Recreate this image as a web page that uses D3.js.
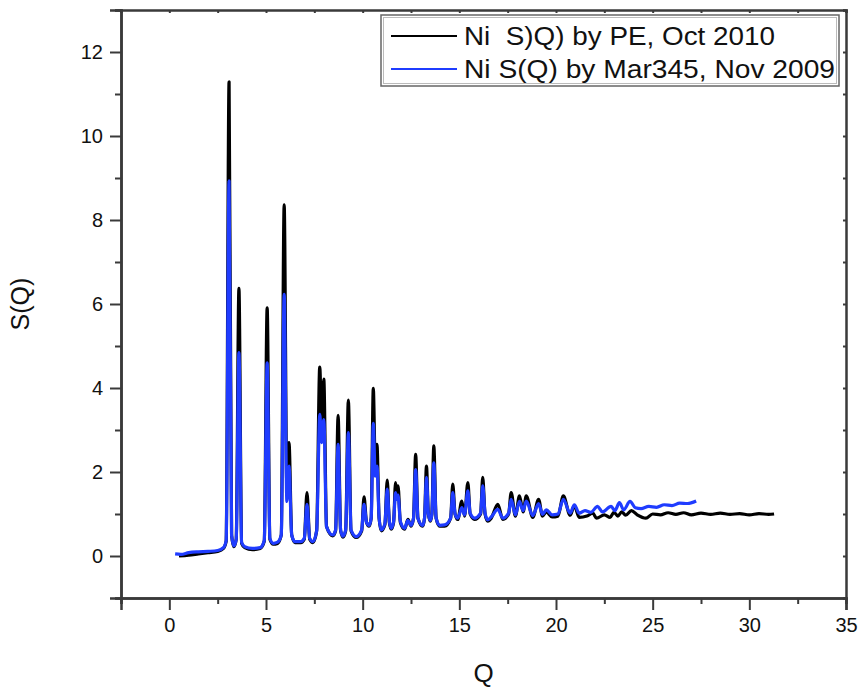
<!DOCTYPE html>
<html>
<head>
<meta charset="utf-8">
<script src="https://cdn.jsdelivr.net/npm/d3@7"></script>
<style>
  body { margin: 0; background: #fff; }
  text { font-family: "Liberation Sans", Arial, sans-serif; fill: #111; }
</style>
</head>
<body>
<div id="plot"></div>
<script>
// S(Q), [Q, S(Q)]
const peData = [
  [0.5,0.0],[1.0,0.02],[1.5,0.05],[2.0,0.08],[2.5,0.11],[2.8,0.18],[2.94,0.35],
  [3.09,11.29],[3.22,0.5],[3.34,0.22],[3.46,0.4],[3.6,6.37],[3.74,0.3],[3.9,0.2],
  [4.3,0.15],[4.7,0.18],[4.91,0.35],[5.06,5.91],[5.2,0.4],[5.37,0.28],[5.6,0.3],
  [5.79,0.5],[5.94,8.36],[6.08,1.6],[6.19,2.7],[6.33,0.5],[6.5,0.32],[6.8,0.32],
  [6.98,0.4],[7.12,1.51],[7.26,0.4],[7.43,0.32],[7.62,0.6],[7.78,4.5],[7.88,3.2],
  [7.99,4.21],[8.13,0.7],[8.45,0.48],[8.6,0.6],[8.73,3.35],[8.86,0.6],[8.98,0.45],
  [9.12,0.6],[9.26,3.71],[9.4,0.6],[9.67,0.44],[9.95,0.6],[10.07,1.41],[10.2,0.8],
  [10.33,0.71],[10.44,0.9],[10.55,3.99],[10.65,2.2],[10.74,2.66],[10.85,0.9],
  [10.96,0.6],[11.15,0.75],[11.27,1.81],[11.38,0.8],[11.48,0.64],[11.6,0.8],
  [11.7,1.75],[11.76,1.5],[11.83,1.67],[11.95,0.8],[12.17,0.64],[12.34,0.87],
  [12.5,0.71],[12.63,0.9],[12.74,2.42],[12.86,0.9],[13.1,0.71],[13.2,0.9],
  [13.3,2.14],[13.4,1.0],[13.5,0.83],[13.58,1.0],[13.68,2.62],[13.8,0.9],
  [13.98,0.71],[14.24,0.71],[14.55,0.9],[14.66,1.71],[14.78,1.0],[14.92,0.87],
  [15.13,1.31],[15.27,0.95],[15.44,1.75],[15.56,1.0],[15.79,0.87],[16.1,1.0],
  [16.21,1.87],[16.33,1.0],[16.47,0.83],[16.65,0.9],[16.99,1.23],[17.25,0.87],
  [17.55,1.0],[17.68,1.51],[17.9,0.95],[18.11,1.43],[18.3,1.05],[18.46,1.43],
  [18.8,0.92],[19.1,1.35],[19.3,0.95],[19.5,1.05],[19.8,0.93],[20.1,0.95],
  [20.38,1.43],[20.73,0.97],[20.95,1.2],[21.2,0.92],[21.6,0.95],[21.9,1.02],
  [22.1,0.9],[22.5,0.98],[22.8,0.92],[23.0,1.04],[23.2,0.95],[23.4,1.05],
  [23.6,0.97],[23.9,1.08],[24.2,0.98],[24.65,0.9],[25.0,1.0],[25.4,0.98],
  [25.8,1.03],[26.2,0.99],[26.6,1.03],[27.0,0.98],[27.5,1.02],[28.0,0.99],
  [28.5,1.02],[29.0,0.99],[29.5,1.01],[30.0,0.98],[30.5,1.01],[31.0,0.99],[31.28,1.0]
];

const marData = [
  [0.3,0.05],[0.6,0.04],[1.0,0.08],[1.5,0.1],[2.0,0.11],[2.5,0.13],[2.8,0.2],
  [2.94,0.37],[3.09,8.93],[3.22,0.5],[3.34,0.24],[3.46,0.4],[3.6,4.84],[3.74,0.32],
  [3.9,0.22],[4.3,0.18],[4.7,0.2],[4.91,0.37],[5.06,4.6],[5.2,0.42],[5.37,0.3],
  [5.6,0.33],[5.79,0.5],[5.94,6.23],[6.08,1.3],[6.19,2.14],[6.33,0.5],[6.5,0.34],
  [6.8,0.34],[6.98,0.42],[7.12,1.23],[7.26,0.42],[7.43,0.34],[7.62,0.6],[7.78,3.37],
  [7.88,2.7],[7.99,3.25],[8.13,0.7],[8.45,0.5],[8.6,0.62],[8.73,2.66],[8.86,0.62],
  [8.98,0.47],[9.12,0.62],[9.26,2.94],[9.4,0.62],[9.67,0.46],[9.95,0.62],
  [10.07,1.23],[10.2,0.8],[10.33,0.73],[10.44,0.9],[10.55,3.16],[10.65,1.9],
  [10.74,2.14],[10.85,0.9],[10.96,0.62],[11.15,0.77],[11.27,1.59],[11.38,0.82],
  [11.48,0.66],[11.6,0.82],[11.7,1.51],[11.76,1.35],[11.83,1.45],[11.95,0.82],
  [12.17,0.66],[12.34,0.85],[12.5,0.73],[12.63,0.9],[12.74,2.06],[12.86,0.9],
  [13.1,0.73],[13.2,0.9],[13.3,1.87],[13.4,1.0],[13.5,0.85],[13.58,1.0],
  [13.68,2.22],[13.8,0.9],[13.98,0.73],[14.24,0.74],[14.55,0.9],[14.66,1.51],
  [14.78,1.0],[14.92,0.9],[15.13,1.15],[15.27,0.98],[15.44,1.55],[15.56,1.02],
  [15.79,0.9],[16.1,1.02],[16.21,1.67],[16.33,1.02],[16.47,0.86],[16.65,0.93],
  [16.99,1.11],[17.25,0.9],[17.55,1.02],[17.68,1.35],[17.9,0.98],[18.11,1.3],
  [18.3,1.08],[18.46,1.31],[18.8,0.96],[19.1,1.25],[19.3,0.99],[19.5,1.1],
  [19.8,0.98],[20.1,1.0],[20.38,1.35],[20.73,1.02],[20.95,1.22],[21.2,1.02],
  [21.5,1.08],[21.8,1.04],[22.15,1.18],[22.4,1.05],[22.85,1.18],[23.05,1.08],
  [23.28,1.27],[23.5,1.1],[23.83,1.3],[24.1,1.15],[24.4,1.13],[24.8,1.18],
  [25.2,1.16],[25.6,1.22],[26.0,1.2],[26.4,1.26],[26.8,1.25],[27.25,1.31]
];

const seriesNames = ["Ni  S)Q) by PE, Oct 2010", "Ni S(Q) by Mar345, Nov 2009"];
const seriesColors = ["#000000", "#1f3cff"];
const xMajor = [0, 5, 10, 15, 20, 25, 30, 35];
const xMinor = [-2.5, 2.5, 7.5, 12.5, 17.5, 22.5, 27.5, 32.5];
const yMajor = [0, 2, 4, 6, 8, 10, 12];
const yMinor = [-1, 1, 3, 5, 7, 9, 11, 13];

const svgWidth = 863, svgHeight = 691;
const margin = { top: 10, right: 17, bottom: 93, left: 121 };
const width = svgWidth - margin.left - margin.right;
const height = svgHeight - margin.top - margin.bottom;

const svg = d3.select('#plot')
    .append('svg')
    .attr("width", svgWidth)
    .attr("height", svgHeight)
    .append("g")
    .attr("transform", "translate(" + margin.left + "," + margin.top + ")");

const x = d3.scaleLinear().domain([-2.5, 35]).range([0, width]);
const y = d3.scaleLinear().domain([-1, 13]).range([height, 0]);

const axisColor = "#3a3a3a";

// bottom axis: labelled majors, short minors
svg.append("g").attr("transform", "translate(0," + height + ")")
    .call(d3.axisBottom(x).tickValues(xMajor).tickSize(12).tickPadding(8).tickFormat(d3.format("d")));
svg.append("g").attr("transform", "translate(0," + height + ")")
    .call(d3.axisBottom(x).tickValues(xMinor).tickSize(6).tickFormat(""));

// left axis
svg.append("g")
    .call(d3.axisLeft(y).tickValues(yMajor).tickSize(11).tickPadding(7).tickFormat(d3.format("d")));
svg.append("g")
    .call(d3.axisLeft(y).tickValues(yMinor).tickSize(6).tickFormat(""));

// top and right: small inward ticks
svg.append("g")
    .call(d3.axisTop(x).tickValues(xMajor.concat(xMinor)).tickSize(-3).tickFormat(""));
svg.append("g").attr("transform", "translate(" + width + ",0)")
    .call(d3.axisRight(y).tickValues(yMajor.concat(yMinor)).tickSize(-3).tickFormat(""));

svg.selectAll(".domain").attr("stroke", axisColor).attr("stroke-width", 2.5);
svg.selectAll(".tick line").attr("stroke", axisColor).attr("stroke-width", 2);
svg.selectAll(".tick text").style("font-size", "20px").attr("fill", "#222");

// data lines
const line = d3.line()
    .x(function(d) { return x(d[0]); })
    .y(function(d) { return y(d[1]); })
    .curve(d3.curveMonotoneX);

svg.append("path").datum(peData)
    .attr("d", line).attr("fill", "none")
    .attr("stroke", seriesColors[0]).attr("stroke-width", 3.2)
    .attr("stroke-linejoin", "round");
svg.append("path").datum(marData)
    .attr("d", line).attr("fill", "none")
    .attr("stroke", seriesColors[1]).attr("stroke-width", 3.2)
    .attr("stroke-linejoin", "round");

// axis titles
svg.append("text")
    .attr("x", width / 2).attr("y", height + 84)
    .attr("text-anchor", "middle")
    .style("font-size", "26px")
    .text("Q");
svg.append("text")
    .attr("transform", "translate(" + (-92) + "," + (height / 2) + ") rotate(-90)")
    .attr("text-anchor", "middle")
    .style("font-size", "25px")
    .text("S(Q)");

// legend
const legendWidths = [311, 371];
const legend = svg.append("g").attr("transform", "translate(" + (381 - margin.left) + "," + (15 - margin.top) + ")");
legend.append("rect").attr("width", 458).attr("height", 71)
    .attr("fill", "#fff").attr("stroke", "#666").attr("stroke-width", 1.5);
legend.append("rect").attr("x", 2.5).attr("y", 2.5).attr("width", 453).attr("height", 66)
    .attr("fill", "none").attr("stroke", "#bbb").attr("stroke-width", 1);

seriesNames.forEach(function(name, i) {
    const ly = 21 + i * 33;
    legend.append("line")
        .attr("x1", 10).attr("x2", 76).attr("y1", ly).attr("y2", ly)
        .attr("stroke", seriesColors[i]).attr("stroke-width", 2);
    legend.append("text")
        .attr("x", 83).attr("y", ly + 9)
        .style("font-size", "25px")
        .style("white-space", "pre")
        .attr("xml:space", "preserve")
        .attr("textLength", legendWidths[i])
        .attr("lengthAdjust", "spacingAndGlyphs")
        .text(name);
});
</script>
</body>
</html>
